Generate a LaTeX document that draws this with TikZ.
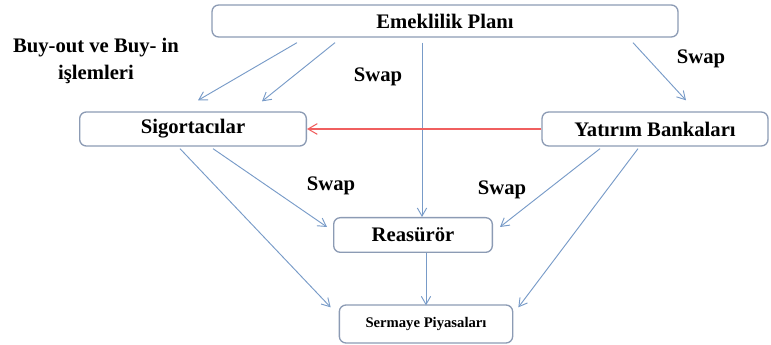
\documentclass[tikz,border=0pt]{standalone}
\usepackage{fontspec}
\setmainfont{Liberation Serif}
\usetikzlibrary{arrows.meta, calc}

\definecolor{boxgray}{RGB}{140,155,180}
\definecolor{linkblue}{RGB}{120,155,200}
\definecolor{swapred}{RGB}{240,95,95}

\begin{document}
\begin{tikzpicture}[x=0.75pt, y=0.75pt,
    box/.style={draw=boxgray, line width=1pt, rounded corners=5pt, inner sep=0pt,
                font=\fontsize{15.5}{18}\selectfont\bfseries},
    link/.style={->, >={Straight Barb[angle=60:7pt]}, draw=linkblue, line width=0.7pt},
    lbl/.style={font=\fontsize{15.5}{20}\selectfont\bfseries, align=center}]
    \useasboundingbox (0,0) rectangle (771,-345);

    \node [box, minimum width=349.5pt, minimum height=24pt] (plan) at (445,-21) {Emeklilik Planı};
    \node [box, minimum width=170pt, minimum height=25.5pt] (sig) at (193,-129) {Sigortacılar};
    \node [box, minimum width=169.5pt, minimum height=25.5pt] (yat) at (655,-129) {Yatırım Bankaları};
    \node [box, minimum width=119pt, minimum height=26pt] (reas) at (413,-235) {Reasürör};
    \node [box, minimum width=130pt, minimum height=28.5pt, font=\fontsize{11}{13}\selectfont\bfseries]
        (serm) at (426,-324) {Sermaye Piyasaları};

    \node [lbl] (buy) at (96,-61) {Buy-out ve Buy- in\\işlemleri};
    \node [lbl] (swap1) at (378,-77) {Swap};
    \node [lbl] (swap2) at (701,-59) {Swap};
    \node [lbl] (swap3) at (331,-186) {Swap};
    \node [lbl] (swap4) at (502,-190) {Swap};

    \draw [link] ($(plan.south)+(-148,-5)$) -- ($(sig.north)+(5,11)$);
    \draw [link] ($(plan.south)+(-110,-5)$) -- ($(sig.north)+(69,10)$);
    \draw [link] ($(plan.south)+(-23,-5)$) -- ($(reas.north)+(9,0)$);
    \draw [link] ($(plan.south)+(188,-5)$) -- ($(yat.north)+(31,11)$);
    \draw [link, draw=swapred, line width=0.8pt, >={Straight Barb[angle=60:8pt]}] (yat.west) -- (sig.east);
    \draw [link] ($(sig.south)+(-13,-2)$) -- ($(serm.north west)+(-8,-3)$);
    \draw [link] ($(sig.south)+(20,-2)$) -- ($(reas.north west)+(-6,-10)$);
    \draw [link] ($(yat.south)+(-55,-2)$) -- ($(reas.north east)+(7,-10)$);
    \draw [link] ($(yat.south)+(-17,-2)$) -- ($(serm.north east)+(5,-3)$);
    \draw [link] ($(reas.south)+(13,0)$) -- ($(serm.north)+(0,-1)$);
\end{tikzpicture}
\end{document}
